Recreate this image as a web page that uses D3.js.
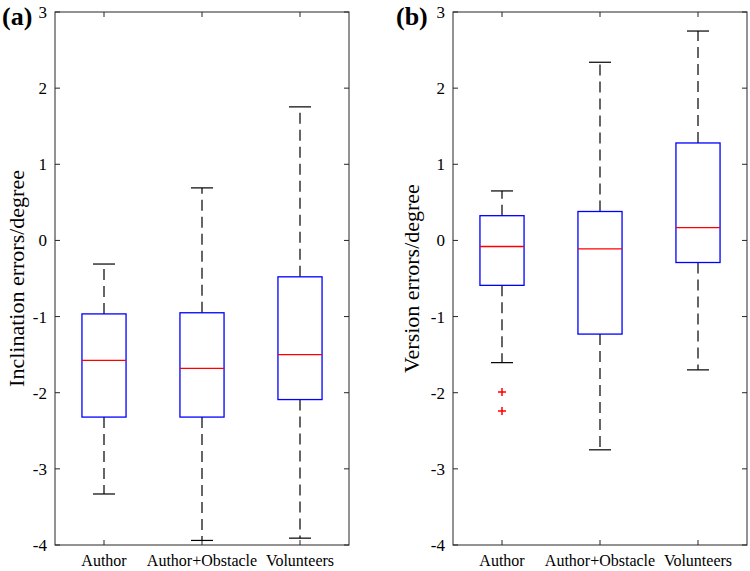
<!DOCTYPE html>
<html><head><meta charset="utf-8">
<script src="https://cdnjs.cloudflare.com/ajax/libs/d3/7.8.5/d3.min.js"></script>
<style>body{margin:0;background:#fff}svg{display:block}text{font-family:"Liberation Serif","Times New Roman",serif}</style>
</head><body><svg id="c" width="750" height="571"></svg>
<script>
const categories = ["Author", "Author+Obstacle", "Volunteers"];
const yTicks = [3, 2, 1, 0, -1, -2, -3, -4];
// [lowerWhisker, Q1, median, Q3, upperWhisker]
const inclinationStats = [
  [-3.33, -2.32, -1.575, -0.965, -0.31],
  [-3.94, -2.32, -1.68, -0.95, 0.69],
  [-3.91, -2.09, -1.50, -0.478, 1.754]
];
const inclinationOutliers = [[], [], []];
const versionStats = [
  [-1.605, -0.59, -0.08, 0.325, 0.65],
  [-2.75, -1.23, -0.11, 0.38, 2.34],
  [-1.70, -0.29, 0.167, 1.28, 2.75]
];
const versionOutliers = [[-1.99, -2.24], [], []];

(function () {
const panels = [
  {label: "(a)", title: "Inclination errors/degree", stats: inclinationStats, outliers: inclinationOutliers, x0: 55, labelX: 2, titleX: 24},
  {label: "(b)", title: "Version errors/degree", stats: versionStats, outliers: versionOutliers, x0: 453, labelX: 396, titleX: 419}
];
const svg = d3.select("#c");
const yTop = 12, yBot = 545, W = 294;

panels.forEach(p => {
  const g = svg.append("g");
  const x = d3.scaleBand().domain(categories).range([p.x0, p.x0 + W]).padding(0);
  const y = d3.scaleLinear().domain([-4, 3]).range([yBot, yTop]);
  const bw = x.bandwidth() * 0.45, cw = x.bandwidth() * 0.225;
  const cx = c => x(c) + x.bandwidth() / 2;

  g.append("rect").attr("x", p.x0).attr("y", yTop).attr("width", W).attr("height", yBot - yTop)
    .attr("fill", "none").attr("stroke", "#262626").attr("stroke-width", 1);
  yTicks.forEach(t => {
    g.append("line").attr("x1", p.x0).attr("x2", p.x0 + 5).attr("y1", y(t)).attr("y2", y(t)).attr("stroke", "#262626");
    g.append("line").attr("x1", p.x0 + W - 5).attr("x2", p.x0 + W).attr("y1", y(t)).attr("y2", y(t)).attr("stroke", "#262626");
    g.append("text").attr("x", p.x0 - 8).attr("y", y(t)).attr("dy", "0.35em").attr("text-anchor", "end")
      .attr("font-size", 17).attr("fill", "#000").text(t);
  });
  categories.forEach(c => {
    g.append("line").attr("x1", cx(c)).attr("x2", cx(c)).attr("y1", yBot).attr("y2", yBot - 5).attr("stroke", "#262626");
    g.append("line").attr("x1", cx(c)).attr("x2", cx(c)).attr("y1", yTop).attr("y2", yTop + 5).attr("stroke", "#262626");
    g.append("text").attr("x", cx(c)).attr("y", 566).attr("text-anchor", "middle").attr("font-size", 16).attr("fill", "#000").text(c);
  });
  g.append("text").attr("transform", `translate(${p.titleX},${(yTop + yBot) / 2}) rotate(-90)`)
    .attr("text-anchor", "middle").attr("font-size", 22).attr("fill", "#000").text(p.title);
  g.append("text").attr("x", p.labelX).attr("y", 25).attr("font-size", 26).attr("font-weight", "bold").attr("fill", "#000").text(p.label);

  categories.forEach((c, i) => {
    const [lo, q1, med, q3, hi] = p.stats[i];
    const xc = cx(c);
    g.append("line").attr("x1", xc).attr("x2", xc).attr("y1", y(q3)).attr("y2", y(hi))
      .attr("stroke", "#000").attr("stroke-width", 1.2).attr("stroke-dasharray", "11,6");
    g.append("line").attr("x1", xc).attr("x2", xc).attr("y1", y(q1)).attr("y2", y(lo))
      .attr("stroke", "#000").attr("stroke-width", 1.2).attr("stroke-dasharray", "11,6");
    [lo, hi].forEach(v => g.append("line").attr("x1", xc - cw / 2).attr("x2", xc + cw / 2)
      .attr("y1", y(v)).attr("y2", y(v)).attr("stroke", "#000").attr("stroke-width", 1.2));
    g.append("rect").attr("x", xc - bw / 2).attr("y", y(q3)).attr("width", bw).attr("height", y(q1) - y(q3))
      .attr("fill", "none").attr("stroke", "#0000ff").attr("stroke-width", 1.3);
    g.append("line").attr("x1", xc - bw / 2).attr("x2", xc + bw / 2).attr("y1", y(med)).attr("y2", y(med))
      .attr("stroke", "#ff0000").attr("stroke-width", 1.3);
    p.outliers[i].forEach(v => {
      g.append("path").attr("d", `M${xc - 4},${y(v)}H${xc + 4}M${xc},${y(v) - 4}V${y(v) + 4}`)
        .attr("stroke", "#ff0000").attr("stroke-width", 1.5);
    });
  });
});
})();
</script></body></html>
